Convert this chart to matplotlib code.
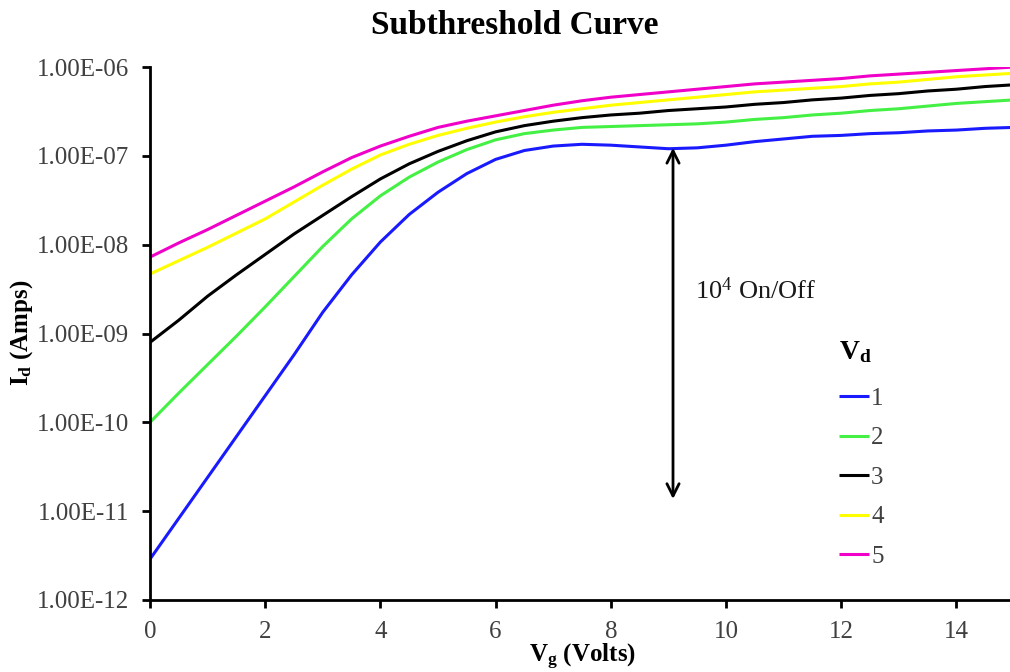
import matplotlib
matplotlib.use("Agg")
import matplotlib.pyplot as plt
import numpy as np
from matplotlib.ticker import FixedLocator, FixedFormatter

plt.rcParams['font.family'] = ['Liberation Serif', 'DejaVu Serif']
plt.rcParams['mathtext.fontset'] = 'custom'
plt.rcParams['mathtext.rm'] = 'Liberation Serif'
plt.rcParams['mathtext.it'] = 'Liberation Serif:italic'
plt.rcParams['mathtext.bf'] = 'Liberation Serif:bold'

# gate voltage sweep (V)
vg = [0, 0.5, 1, 1.5, 2, 2.5, 3, 3.5, 4, 4.5, 5, 5.5, 6, 6.5, 7, 7.5,
      8, 8.5, 9, 9.5, 10, 10.5, 11, 11.5, 12, 12.5, 13, 13.5, 14, 14.5, 15]

# log10 of drain current (A) for each drain voltage
log_id_vd1 = [-11.54, -11.08, -10.62, -10.16, -9.70, -9.24, -8.76, -8.34, -7.97, -7.66,
              -7.41, -7.20, -7.04, -6.94, -6.89, -6.87, -6.88, -6.90, -6.92, -6.91,
              -6.88, -6.84, -6.81, -6.78, -6.77, -6.75, -6.74, -6.72, -6.71, -6.69, -6.68]
log_id_vd2 = [-10.00, -9.67, -9.35, -9.03, -8.70, -8.36, -8.02, -7.71, -7.45, -7.24,
              -7.07, -6.93, -6.82, -6.75, -6.71, -6.68, -6.67, -6.66, -6.65, -6.64,
              -6.62, -6.59, -6.57, -6.54, -6.52, -6.49, -6.47, -6.44, -6.41, -6.39, -6.37]
log_id_vd3 = [-9.10, -8.85, -8.58, -8.34, -8.11, -7.88, -7.67, -7.46, -7.26, -7.09,
              -6.95, -6.83, -6.73, -6.66, -6.61, -6.57, -6.54, -6.52, -6.49, -6.47,
              -6.45, -6.42, -6.40, -6.37, -6.35, -6.32, -6.30, -6.27, -6.25, -6.22, -6.20]
log_id_vd4 = [-8.33, -8.18, -8.03, -7.87, -7.71, -7.52, -7.33, -7.15, -6.99, -6.87,
              -6.77, -6.69, -6.62, -6.56, -6.51, -6.47, -6.43, -6.40, -6.37, -6.34,
              -6.31, -6.28, -6.26, -6.24, -6.22, -6.19, -6.17, -6.14, -6.11, -6.09, -6.07]
log_id_vd5 = [-8.14, -7.98, -7.83, -7.67, -7.51, -7.35, -7.18, -7.02, -6.89, -6.78,
              -6.68, -6.61, -6.55, -6.49, -6.43, -6.38, -6.34, -6.31, -6.28, -6.25,
              -6.22, -6.19, -6.17, -6.15, -6.13, -6.10, -6.08, -6.06, -6.04, -6.02, -6.00]

vd_labels = ['1', '2', '3', '4', '5']
colors = ['#1a1aff', '#44f044', '#000000', '#ffff00', '#f000c8']

y_ticks = [1e-12, 1e-11, 1e-10, 1e-9, 1e-8, 1e-7, 1e-6]
y_tick_labels = ['1.00E-12', '1.00E-11', '1.00E-10', '1.00E-09',
                 '1.00E-08', '1.00E-07', '1.00E-06']
x_ticks = [0, 2, 4, 6, 8, 10, 12, 14]

# on/off ratio arrow
arrow_vg = 9.08
arrow_top = 1.23e-7
arrow_bottom = 1.37e-11

fig = plt.figure(figsize=(10.1, 6.72), dpi=100)
ax = fig.add_axes([150 / 1010, 1 - 600 / 672, 864 / 1010, 533 / 672])

series = [log_id_vd1, log_id_vd2, log_id_vd3, log_id_vd4, log_id_vd5]
for vals, lab, col in zip(series, vd_labels, colors):
    ax.plot(vg, 10 ** np.array(vals), color=col, lw=2.2, label=lab,
            solid_capstyle='butt', solid_joinstyle='round')

ax.set_yscale('log')
ax.set_xlim(0, 15)
ax.set_ylim(1e-12, 1e-6)
ax.yaxis.set_major_locator(FixedLocator(y_ticks))
ax.yaxis.set_major_formatter(FixedFormatter(y_tick_labels))
ax.yaxis.set_minor_locator(FixedLocator([]))
ax.set_xticks(x_ticks)

for side in ['top', 'right']:
    ax.spines[side].set_visible(False)
for side in ['left', 'bottom']:
    ax.spines[side].set_linewidth(2)
ax.tick_params(axis='both', direction='out', length=6, width=2,
               labelsize=18, labelcolor='#404040')
ax.tick_params(axis='y', pad=9)
ax.tick_params(axis='x', pad=9)

fig.text(582 / 1010, 1 - 657 / 672, r'$\mathbf{V_g}$ (Volts)', fontsize=18,
         fontweight='bold', ha='center', va='center')
fig.text(22 / 1010, 1 - 333 / 672, r'$\mathbf{I_d}$ (Amps)', fontsize=18,
         fontweight='bold', ha='center', va='center', rotation=90)

fig.text(515 / 1010, 1 - 25 / 672, 'Subthreshold Curve', fontsize=24,
         fontweight='bold', ha='center', va='center')

ax.annotate('', xy=(arrow_vg, arrow_top), xytext=(arrow_vg, arrow_bottom),
            arrowprops=dict(arrowstyle='<->', lw=2, color='black',
                            mutation_scale=22, shrinkA=0, shrinkB=0))
ax.text(9.47, 3.0e-9, r'10$^4$ On/Off', fontsize=19, color='#1a1a1a',
        ha='left', va='center')

leg = ax.legend(title=r'$\mathbf{V_d}$', loc='upper left',
                bbox_to_anchor=(0.786, 0.508), frameon=False, fontsize=18,
                handlelength=1.2, handletextpad=0.08, labelspacing=0.68,
                borderaxespad=0)
leg.get_title().set_fontsize(20)
leg.get_title().set_fontweight('bold')
leg._legend_box.align = 'left'
leg._legend_box.sep = 16
for t in leg.get_texts():
    t.set_color('#404040')

fig.savefig('out.png', dpi=100)
